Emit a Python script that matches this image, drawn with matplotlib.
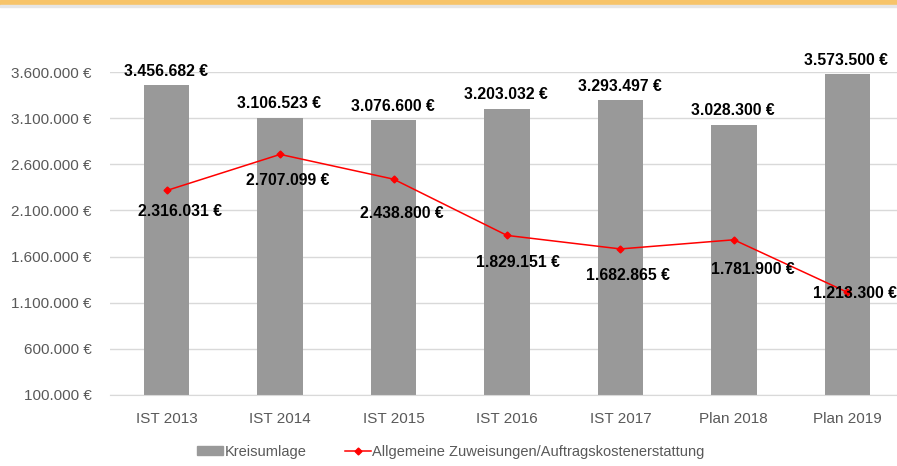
import matplotlib.pyplot as plt
from matplotlib.patches import Rectangle
from matplotlib.lines import Line2D
from matplotlib.ticker import FuncFormatter

years = ['IST 2013', 'IST 2014', 'IST 2015', 'IST 2016', 'IST 2017', 'Plan 2018', 'Plan 2019']
kreisumlage = [3456682, 3106523, 3076600, 3203032, 3293497, 3028300, 3573500]
zuweisungen = [2316031, 2707099, 2438800, 1829151, 1682865, 1781900, 1213300]
yticks = [100000, 600000, 1100000, 1600000, 2100000, 2600000, 3100000, 3600000]

# label offsets for the red line (pixels right / down from the point)
line_lbl_off = [(13, 21), (8, 26), (8, 34), (11, 27), (8, 27), (19, 30), (8, 1)]


def euro(v, pos=None):
    return f"{v:,.0f} €".replace(',', '.')


plt.rcParams['font.family'] = ['Liberation Sans', 'DejaVu Sans']

fig = plt.figure(figsize=(8.97, 4.66), dpi=100)
ax = fig.add_axes([110 / 897, 71 / 466, 794 / 897, 323 / 466])

# orange band at the top
fig.patches.append(Rectangle((0, 461 / 466), 1, 5 / 466, transform=fig.transFigure,
                             color='#F7C46A', zorder=0))
fig.patches.append(Rectangle((0, 459 / 466), 1, 2 / 466, transform=fig.transFigure,
                             color='#E6E6E6', zorder=0))

x = range(len(years))
ax.bar(x, kreisumlage, width=0.4, color='#999999', zorder=2)
ax.plot(x, zuweisungen, color='#FF0000', lw=1.1, marker='D', ms=3.5, zorder=3)

px = 0.72  # points per pixel at dpi 100
for xi, v in zip(x, kreisumlage):
    ax.annotate(euro(v), (xi, v), xytext=(-1 * px, 14 * px), textcoords='offset points',
                ha='center', va='center', fontsize=11.3, fontweight='bold',
                color='black', annotation_clip=False, zorder=4)
for xi, v, (dx, dy) in zip(x, zuweisungen, line_lbl_off):
    ax.annotate(euro(v), (xi, v), xytext=(dx * px, -dy * px), textcoords='offset points',
                ha='center', va='center', fontsize=11.3, fontweight='bold',
                color='black', annotation_clip=False, zorder=4)

ax.set_xlim(-0.5, len(years) - 0.5)
ax.set_ylim(100000, 3600000)
ax.set_yticks(yticks)
ax.yaxis.set_major_formatter(FuncFormatter(euro))
ax.set_xticks(list(x))
ax.set_xticklabels(years)
ax.tick_params(axis='both', length=0, labelsize=11, labelcolor='#595959')
ax.tick_params(axis='x', pad=12)
ax.tick_params(axis='y', pad=13)
ax.grid(axis='y', color='#D9D9D9', lw=1, zorder=0)
for s in ['top', 'right', 'left']:
    ax.spines[s].set_visible(False)
ax.spines['bottom'].set_color('#D9D9D9')

handles = [Rectangle((0, 0), 1, 1, color='#999999'),
           Line2D([0], [0], color='#FF0000', marker='D', ms=3.5, lw=1.1)]
fig.legend(handles, ['Kreisumlage', 'Allgemeine Zuweisungen/Auftragskostenerstattung'],
           loc='center', bbox_to_anchor=(451 / 897, 14 / 466), ncol=2, frameon=False,
           fontsize=10.5, labelcolor='#595959', handlelength=1.8, handleheight=0.6,
           handletextpad=0.1, columnspacing=2.6)

fig.savefig('out.png', dpi=100)
